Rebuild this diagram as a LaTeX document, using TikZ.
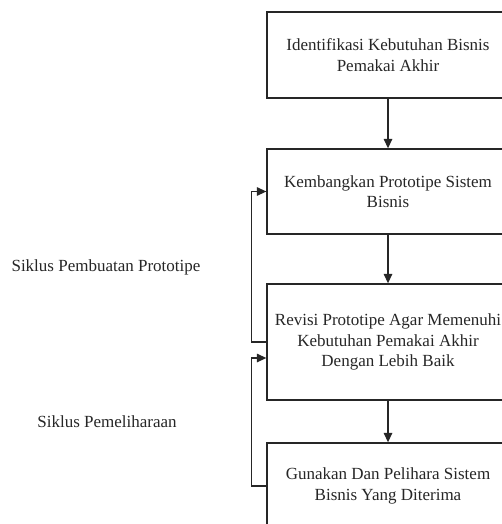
\documentclass[tikz,border=0pt]{standalone}
\usepackage{fontspec}
\setmainfont{Liberation Serif}
\usetikzlibrary{arrows.meta,calc}
\begin{document}
\begin{tikzpicture}[x=1pt,y=1pt,
  box/.style={draw=black!85,line width=1.3pt,minimum width=242pt,align=center,font=\fontsize{17}{20.5}\selectfont,text=black!85,inner sep=0pt},
  conn/.style={draw=black!85,line width=1.3pt,-{Triangle[length=9.5pt,width=8.5pt]}},
  lbl/.style={font=\fontsize{17}{20.5}\selectfont,text=black!85,inner sep=0pt}]
\useasboundingbox (0,0) rectangle (502,-524);
\clip (0,0) rectangle (502,-524);
\node[box,minimum height=86pt] (b1) at (388,-55) {Identifikasi Kebutuhan Bisnis\\Pemakai Akhir};
\node[box,minimum height=85pt] (b2) at (388,-191.5) {Kembangkan Prototipe Sistem\\Bisnis};
\node[box,minimum height=116pt] (b3) at (388,-342) {Revisi Prototipe Agar Memenuhi\\Kebutuhan Pemakai Akhir\\Dengan Lebih Baik};
\node[box,minimum height=86pt] (b4) at (388,-486) {Gunakan Dan Pelihara Sistem\\Bisnis Yang Diterima};
\node[lbl] (l1) at (106,-267) {Siklus Pembuatan Prototipe};
\node[lbl] (l2) at (107,-422) {Siklus Pemeliharaan};
\draw[conn] (b1) -- (b2);
\draw[conn] (b2) -- (b3);
\draw[conn] (b3) -- (b4);
\coordinate (in3) at ($(b3.west)+(0,-16)$);
\draw[conn] (b3.west) -- ++(-15,0) |- (b2.west);
\draw[conn] (b4.west) -- ++(-15,0) |- (in3);
\end{tikzpicture}
\end{document}
